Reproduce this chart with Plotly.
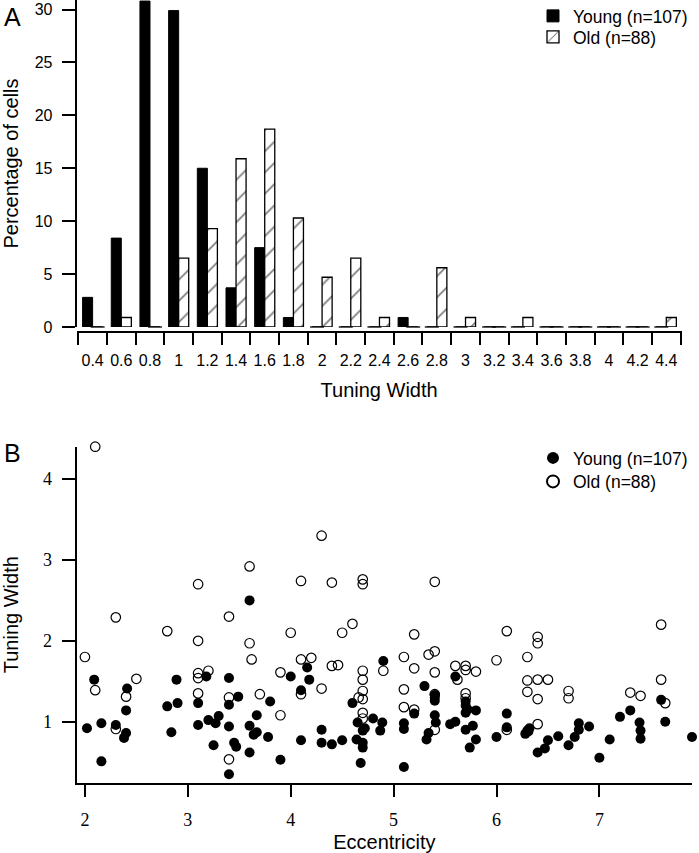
import plotly.graph_objects as go

# ---------------- Panel A data (histogram of tuning width) ----------------
bins = ["0.4", "0.6", "0.8", "1", "1.2", "1.4", "1.6", "1.8", "2", "2.2", "2.4",
        "2.6", "2.8", "3", "3.2", "3.4", "3.6", "3.8", "4", "4.2", "4.4"]
young_pct = [2.8, 8.4, 30.8, 29.9, 15.0, 3.7, 7.5, 0.9, 0, 0, 0,
             0.9, 0, 0, 0, 0, 0, 0, 0, 0, 0]
old_pct = [0, 0.9, 0, 6.5, 9.3, 15.9, 18.7, 10.3, 4.7, 6.5, 0.9,
           0, 5.6, 0.9, 0, 0.9, 0, 0, 0, 0, 0.9]

# ---------------- Panel B data (tuning width vs eccentricity) ----------------
young_ecc = [2.02, 2.09, 2.16, 2.16, 2.30, 2.38, 2.40, 2.40, 2.41, 2.80, 2.84, 2.89, 2.90,
             3.10, 3.10, 3.18, 3.20, 3.25, 3.27, 3.30, 3.40, 3.40, 3.40, 3.40, 3.45, 3.47,
             3.49, 3.60, 3.60, 3.60, 3.64, 3.67, 3.67, 3.78, 3.80, 3.90, 4.00, 4.10, 4.10,
             4.16, 4.18, 4.30, 4.30, 4.40, 4.50, 4.60, 4.64, 4.65, 4.68, 4.70, 4.70, 4.70,
             4.80, 4.87, 4.89, 4.90, 5.10, 5.10, 5.10, 5.20, 5.30, 5.32, 5.34, 5.40, 5.40,
             5.40, 5.41, 5.55, 5.60, 5.60, 5.70, 5.70, 5.70, 5.70, 5.74, 5.77, 5.80, 5.80,
             6.00, 6.10, 6.10, 6.28, 6.30, 6.32, 6.40, 6.47, 6.50, 6.60, 6.70, 6.76, 6.80,
             6.80, 6.90, 7.00, 7.10, 7.20, 7.30, 7.39, 7.40, 7.40, 7.60, 7.64, 7.90,
             5.40, 4.72, 6.31, 5.72]
young_tw = [0.92, 1.52, 0.98, 0.51, 0.96, 0.80, 0.86, 1.14, 1.41, 1.19, 0.87, 1.52, 1.23,
            1.23, 0.96, 1.56, 1.02, 0.71, 0.98, 1.07, 1.54, 1.21, 0.94, 0.35, 0.74, 0.69,
            1.31, 2.50, 0.95, 0.62, 0.84, 0.87, 1.08, 0.81, 1.25, 0.53, 1.56, 1.39, 0.77,
            1.67, 1.52, 0.90, 0.74, 0.72, 0.77, 1.23, 0.78, 0.99, 0.49, 0.89, 0.74, 0.68,
            1.04, 0.89, 0.99, 1.75, 0.98, 0.91, 0.44, 1.10, 1.44, 0.78, 0.86, 1.30, 1.26,
            1.08, 0.99, 0.97, 1.00, 1.56, 1.25, 1.20, 1.11, 0.90, 0.68, 0.95, 1.14, 0.78,
            0.81, 1.10, 0.93, 0.85, 0.89, 0.92, 0.62, 0.67, 0.77, 0.82, 0.71, 0.81, 0.90,
            0.98, 0.94, 0.555, 0.78, 1.06, 1.14, 0.99, 0.89, 0.79, 1.27, 1.00, 0.81,
            1.33, 0.92, 0.88, 1.15]

old_ecc = [2.00, 2.10, 2.10, 2.30, 2.30, 2.40, 2.50, 2.80, 3.10, 3.10, 3.10, 3.10, 3.10,
           3.20, 3.40, 3.40, 3.40, 3.60, 3.60, 3.62, 3.70, 3.90, 3.90, 4.00, 4.10, 4.10,
           4.10, 4.20, 4.30, 4.30, 4.40, 4.40, 4.46, 4.50, 4.60, 4.66, 4.70, 4.70, 4.70,
           4.70, 4.70, 4.70, 4.70, 4.70, 4.90, 5.10, 5.10, 5.10, 5.20, 5.20, 5.20, 5.34,
           5.40, 5.40, 5.40, 5.40, 5.40, 5.60, 5.62, 5.70, 5.70, 5.70, 5.70, 5.80, 6.00,
           6.10, 6.10, 6.30, 6.30, 6.30, 6.40, 6.40, 6.40, 6.40, 6.40, 6.50, 6.70, 6.70,
           7.30, 7.40, 7.60, 7.60, 7.64]
old_tw = [1.80, 4.40, 1.39, 2.29, 0.91, 1.31, 1.53, 2.12, 2.70, 2.00, 1.60, 1.54, 1.35,
          1.63, 2.30, 1.30, 0.535, 2.92, 1.97, 1.77, 1.34, 1.61, 1.08, 2.10, 2.74, 1.77,
          1.34, 1.79, 3.30, 1.41, 2.72, 1.69, 1.70, 2.10, 2.21, 1.30, 2.76, 2.70, 1.63,
          1.52, 1.38, 1.28, 1.11, 1.04, 1.63, 1.80, 1.40, 1.18, 2.08, 1.66, 1.15, 1.83,
          1.87, 2.73, 1.61, 1.34, 0.90, 1.69, 1.52, 1.69, 1.64, 1.35, 1.29, 1.62, 1.76,
          2.12, 0.90, 1.80, 1.51, 1.37, 2.05, 1.97, 1.52, 1.28, 0.97, 1.52, 1.38, 1.29,
          1.36, 1.32, 2.20, 1.52, 1.23]

SANS = "Liberation Sans, Arial, sans-serif"
SERIF = "Liberation Serif, Times New Roman, serif"
W, H = 699, 853

fig = go.Figure()

idx = list(range(len(bins)))
fig.add_trace(go.Bar(
    x=idx, y=young_pct, name="Young (n=107)",
    marker=dict(color="black", line=dict(color="black", width=1)),
    xaxis="x", yaxis="y", legend="legend", offsetgroup="young",
))
fig.add_trace(go.Bar(
    x=idx, y=old_pct, name="Old (n=88)",
    marker=dict(color="white", line=dict(color="black", width=1.3),
                pattern=dict(shape="/", fgcolor="black", bgcolor="white",
                             size=15, solidity=0.12)),
    xaxis="x", yaxis="y", legend="legend3", offsetgroup="old",
))

# zero-height bins are drawn as a short baseline stroke, as in the original
half = 0.7 / 4
zx = [i - half for i, v in enumerate(young_pct) if v == 0] + \
     [i + half for i, v in enumerate(old_pct) if v == 0]
fig.add_trace(go.Scatter(
    x=zx, y=[0] * len(zx), mode="markers", showlegend=False, hoverinfo="skip",
    marker=dict(symbol="line-ew", size=10, line=dict(color="black", width=1.3)),
    xaxis="x", yaxis="y", cliponaxis=False,
))

fig.add_trace(go.Scatter(
    x=old_ecc, y=old_tw, mode="markers", name="Old (n=88)",
    marker=dict(symbol="circle-open", size=9.5, color="black", line=dict(width=1.2)),
    xaxis="x2", yaxis="y2", legend="legend4", cliponaxis=False,
))
fig.add_trace(go.Scatter(
    x=young_ecc, y=young_tw, mode="markers", name="Young (n=107)",
    marker=dict(symbol="circle", size=10, color="black", line=dict(width=0)),
    xaxis="x2", yaxis="y2", legend="legend2", cliponaxis=False,
))


def axis(font_family, font_size):
    return dict(showline=True, linecolor="black", linewidth=2, showgrid=False,
                zeroline=False, tickcolor="black", tickwidth=1.5, automargin=False,
                tickfont=dict(family=font_family, size=font_size, color="black"))


TITLE_FONT = dict(family=SANS, size=20, color="black")
LEG_FONT = dict(family=SANS, size=17.5, color="black")


def leg(row_y, const=False):
    d = dict(x=533 / W, y=(H - row_y) / H, xanchor="left", yanchor="middle",
             bgcolor="rgba(0,0,0,0)", font=LEG_FONT, itemwidth=30, borderwidth=0)
    if const:
        d["itemsizing"] = "constant"
    return d


fig.update_layout(
    width=W, height=H, margin=dict(l=0, r=0, t=0, b=0, autoexpand=False),
    paper_bgcolor="white", plot_bgcolor="white",
    barmode="group", bargap=0.3, bargroupgap=0,
    font=dict(family=SANS, color="black"),
    xaxis=dict(**axis(SANS, 16), domain=[76.7 / W, 681.5 / W], range=[-0.555, 20.53],
               tickmode="array", tickvals=idx, ticktext=bins, ticks="",
               ticklabelstandoff=14, anchor="free", position=(H - 331.5) / H,
               minor=dict(tickmode="array", tickvals=[i - 0.5 for i in range(len(bins) + 1)],
                          ticks="outside", ticklen=12, tickwidth=1.5, tickcolor="black"),
               title=dict(text="Tuning Width", font=TITLE_FONT, standoff=14)),
    yaxis=dict(**axis(SANS, 16), domain=[(H - 327) / H, 1.0], range=[0, 30.9],
               tickmode="array", tickvals=[0, 5, 10, 15, 20, 25, 30], ticks="outside",
               ticklen=13, ticklabelstandoff=6, anchor="x",
               title=dict(text="Percentage of cells", font=TITLE_FONT, standoff=12)),
    xaxis2=dict(**axis(SERIF, 18), domain=[76.7 / W, 692 / W], range=[1.92, 7.90],
                tickmode="array", tickvals=[2, 3, 4, 5, 6, 7], ticks="outside",
                ticklen=12, ticklabelstandoff=8, anchor="y2",
                title=dict(text="Eccentricity", font=TITLE_FONT, standoff=6)),
    yaxis2=dict(**axis(SERIF, 18), domain=[(H - 782.7) / H, (H - 446.7) / H],
                range=[0.246, 4.40],
                tickmode="array", tickvals=[1, 2, 3, 4], ticks="outside", ticklen=13,
                ticklabelstandoff=6, anchor="x2",
                title=dict(text="Tuning Width", font=TITLE_FONT, standoff=19)),
    legend=leg(16),
    legend3=leg(37),
    legend2=leg(458, True),
    legend4=leg(481.5, True),
    showlegend=True,
    annotations=[
        dict(text="A", x=2 / W, y=1 - 1 / H, xref="paper", yref="paper", xanchor="left",
             yanchor="top", showarrow=False, font=dict(family=SANS, size=25, color="black")),
        dict(text="B", x=2 / W, y=(H - 437) / H, xref="paper", yref="paper", xanchor="left",
             yanchor="top", showarrow=False, font=dict(family=SANS, size=25, color="black")),
    ],
)

fig.write_html("out.html", config={"displayModeBar": False},
               post_script="document.body.style.margin='0';")
